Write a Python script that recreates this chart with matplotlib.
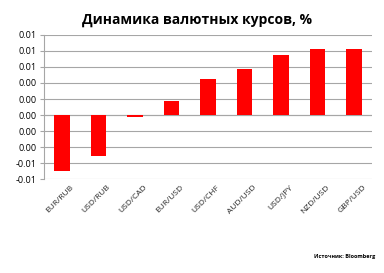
import matplotlib
matplotlib.use("Agg")
import matplotlib.pyplot as plt
import matplotlib.transforms as mtransforms
from matplotlib.ticker import FixedLocator, FuncFormatter

# currency pairs and their change
pairs = ["EUR/RUB", "USD/RUB", "USD/CAD", "EUR/USD", "USD/CHF",
         "AUD/USD", "USD/JPY", "NZD/USD", "GBP/USD"]
change = [-0.0070, -0.0051, -0.0002, 0.00175, 0.0045,
          0.0057, 0.0075, 0.0083, 0.0083]
y_ticks = [-0.008, -0.006, -0.004, -0.002, 0.0, 0.002, 0.004, 0.006, 0.008, 0.010]

plt.rcParams['font.family'] = ['Open Sans', 'DejaVu Sans']

fig = plt.figure(figsize=(3.84, 2.73), dpi=100)
ax = fig.add_axes([0.114, 0.344, 0.855, 0.528])

x = list(range(len(pairs)))
ax.bar(x, change, width=0.42, color='#ff0000', zorder=3)

ax.set_xlim(-0.5, len(pairs) - 0.5)
ax.set_ylim(-0.008, 0.010)
ax.yaxis.set_major_locator(FixedLocator(y_ticks))


def fmt(v, pos):
    s = "%.2f" % v
    return "0.00" if s == "-0.00" else s


ax.yaxis.set_major_formatter(FuncFormatter(fmt))
ax.grid(axis='y', color='#a6a6a6', linewidth=0.8, zorder=0)
ax.axhline(0, color='#a6a6a6', linewidth=0.8, zorder=1)

for side in ['top', 'right', 'bottom']:
    ax.spines[side].set_visible(False)
ax.spines['left'].set_color('#a6a6a6')
ax.spines['left'].set_linewidth(0.8)

ax.tick_params(axis='y', labelsize=6.5, length=3, color='#a6a6a6', pad=2)
ax.set_xticks(x)
ax.set_xticklabels([])
ax.tick_params(axis='x', length=0)

# rotated category labels, anchored at their upper-right end
offset = mtransforms.ScaledTranslation(11 / 100, -7 / 100, fig.dpi_scale_trans)
trans = mtransforms.blended_transform_factory(ax.transData, ax.transAxes) + offset
for xi, lab in zip(x, pairs):
    ax.text(xi, 0, lab, transform=trans, rotation=45, rotation_mode='anchor',
            ha='right', va='center', fontsize=6, color='#222222')

fig.text(0.513, 0.925, "Динамика валютных курсов, %", ha='center', va='center',
         fontsize=10, fontweight='bold')
fig.text(0.977, 0.062, "Источник: Bloomberg", ha='right', va='center',
         fontsize=4, fontweight='bold')

fig.savefig("out.png", dpi=100)
